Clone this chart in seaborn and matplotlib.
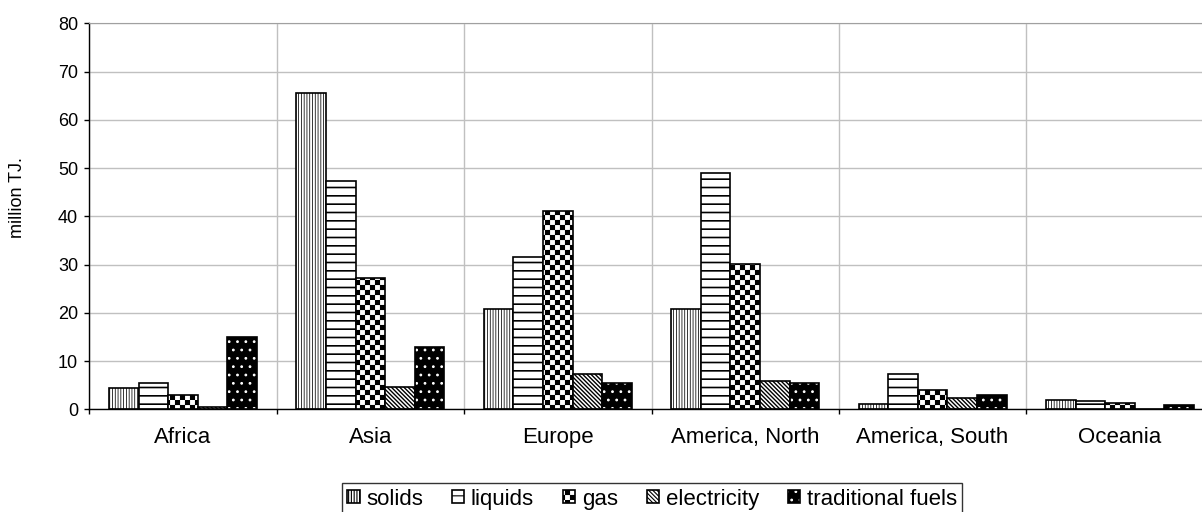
import numpy as np
import pandas as pd
import matplotlib
matplotlib.use("Agg")
import matplotlib.pyplot as plt
import seaborn as sns
from matplotlib import hatch as mhatch
from matplotlib.path import Path
from matplotlib.ticker import FixedLocator

# ---------------- data ----------------
regions = ["Africa", "Asia", "Europe", "America, North", "America, South", "Oceania"]
fuels = ["solids", "liquids", "gas", "electricity", "traditional fuels"]
solids = [4.35, 65.5, 20.8, 20.8, 1.2, 1.9]
liquids = [5.45, 47.3, 31.6, 48.9, 7.3, 1.7]
gas = [2.9, 27.3, 41.1, 30.2, 4.0, 1.3]
electricity = [0.4, 4.7, 7.3, 5.8, 2.3, 0.0]
traditional = [15.0, 12.85, 5.5, 5.5, 3.0, 0.9]
y_ticks = [0, 10, 20, 30, 40, 50, 60, 70, 80]
y_label = "million TJ."


# ---------------- checkerboard hatch (replaces the '*' star hatch) ----------------
class CheckerHatch(mhatch.HatchPatternBase):
    filled = True

    def __init__(self, hatch, density):
        self.n = hatch.count('*') * 10
        self.num_vertices = (self.n * self.n // 2) * 5

    def set_vertices_and_codes(self, vertices, codes):
        n = self.n
        s = 1.0 / n
        inset = 0.1 * s
        k = 0
        for i in range(n):
            for j in range(n):
                if (i + j) % 2 == 0:
                    x0, y0 = i * s + inset, j * s + inset
                    x1, y1 = (i + 1) * s - inset, (j + 1) * s - inset
                    vertices[k:k + 5] = [(x0, y0), (x1, y0), (x1, y1), (x0, y1), (x0, y0)]
                    codes[k] = Path.MOVETO
                    codes[k + 1:k + 4] = Path.LINETO
                    codes[k + 4] = Path.CLOSEPOLY
                    k += 5


mhatch._hatch_types = [t for t in mhatch._hatch_types if t is not mhatch.Stars] + [CheckerHatch]

plt.rcParams["font.family"] = ["Liberation Sans", "DejaVu Sans"]
plt.rcParams["hatch.linewidth"] = 0.8

records = []
for fuel, vals in zip(fuels, [solids, liquids, gas, electricity, traditional]):
    for r, v in zip(regions, vals):
        records.append((r, fuel, v))
df = pd.DataFrame(records, columns=["region", "fuel", "value"])

fig = plt.figure(figsize=(12.02, 5.12), dpi=100)
L, R = 89.3, 1213.7
B, T = 409.3, 23.3
ax = fig.add_axes([L / 1202, 1 - B / 512, (R - L) / 1202, (B - T) / 512])

sns.barplot(data=df, x="region", y="value", hue="fuel", order=regions, hue_order=fuels,
            palette={f: "white" for f in fuels}, saturation=1, edgecolor="black",
            linewidth=1.2, width=0.79, gap=0, legend=False, ax=ax, errorbar=None)

styles = {
    "solids": dict(face="white", hatch="||||||", hc="black", hlw=0.55),
    "liquids": dict(face="white", hatch="--", hc="black", hlw=1.2),
    "gas": dict(face="white", hatch="**", hc="black", hlw=0.8),
    "electricity": dict(face="white", hatch="\\" * 8, hc="black", hlw=1.0),
    "traditional fuels": dict(face="black", hatch="..", hc="white", hlw=0.8),
}
for fuel, cont in zip(fuels, ax.containers):
    st = styles[fuel]
    for p in cont.patches:
        p.set_facecolor(st["face"])
        p.set_edgecolor("black")
        p.set_hatch(st["hatch"])
        p._hatch_color = matplotlib.colors.to_rgba(st["hc"])
        if hasattr(p, "set_hatch_linewidth"):
            p.set_hatch_linewidth(st["hlw"])

ax.set_xlim(-0.5, len(regions) - 0.5)
ax.set_ylim(y_ticks[0], y_ticks[-1])
ax.set_yticks(y_ticks)
ax.set_xlabel("")
ax.set_ylabel(y_label, fontsize=13)
ax.yaxis.set_label_coords(-0.0567, 0.548)

ax.xaxis.set_minor_locator(FixedLocator(np.arange(-0.5, len(regions), 1.0)))
ax.tick_params(axis="x", which="major", length=0, pad=13, labelsize=16)
ax.tick_params(axis="x", which="minor", length=3.6, width=1, direction="out", color="black")
ax.tick_params(axis="y", which="major", length=3.6, width=1, direction="out", pad=4.5,
               labelsize=13, color="black")

ax.set_axisbelow(True)
ax.yaxis.grid(True, color="#c0c0c0", lw=1)
ax.xaxis.grid(True, which="minor", color="#c0c0c0", lw=1)
ax.xaxis.grid(False, which="major")

for s in ["left", "bottom"]:
    ax.spines[s].set_color("black")
    ax.spines[s].set_linewidth(1)
ax.spines["top"].set_color("#a0a0a0")
ax.spines["right"].set_visible(False)

leg = ax.legend(handles=list(ax.containers), labels=fuels, loc="upper center",
                bbox_to_anchor=(652 / 1202, 1 - 483 / 512), bbox_transform=fig.transFigure,
                ncol=5, frameon=True, fancybox=False, edgecolor="black", fontsize=16,
                handlelength=0.55, handleheight=0.55, handletextpad=0.3,
                columnspacing=1.3, borderpad=0.25, borderaxespad=0)
leg.get_frame().set_linewidth(1)

fig.savefig("out.png", dpi=100)
